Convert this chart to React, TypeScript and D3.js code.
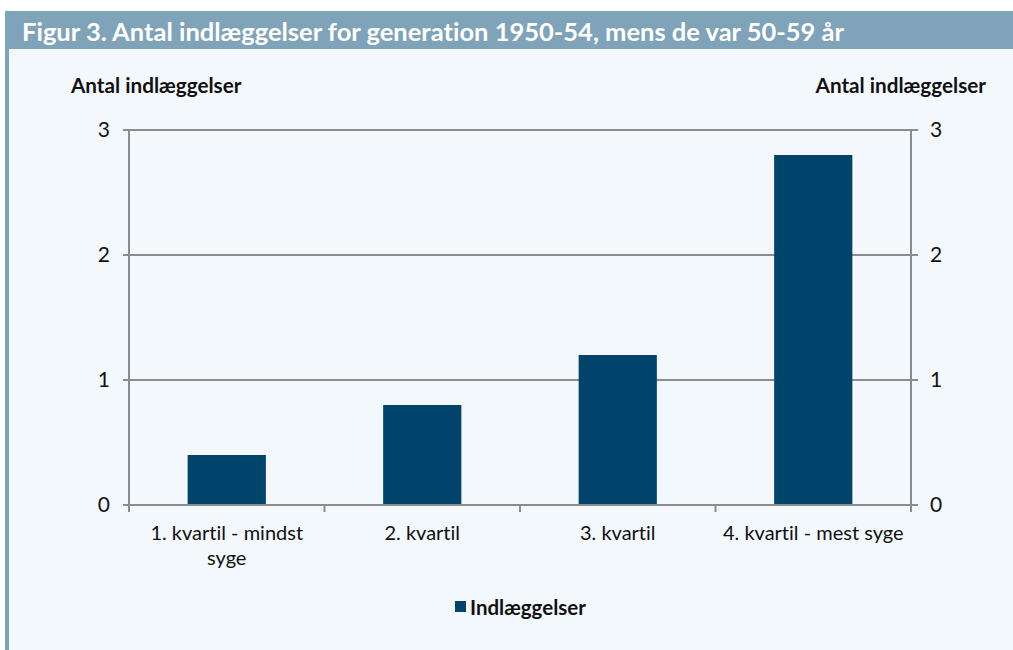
import React from "react";
import * as d3 from "d3";

const categories = ["1. kvartil - mindst syge", "2. kvartil", "3. kvartil", "4. kvartil - mest syge"];
const categoryLines = [["1. kvartil - mindst", "syge"], ["2. kvartil"], ["3. kvartil"], ["4. kvartil - mest syge"]];
const values = [0.4, 0.8, 1.2, 2.8];
const yTicks = [0, 1, 2, 3];
const seriesName = "Indlæggelser";
const title = "Figur 3. Antal indlæggelser for generation 1950-54, mens de var 50-59 år";
const axisTitle = "Antal indlæggelser";

const W = 1013;
const H = 650;
const left = 129;
const right = 911;
const top = 130;
const bottom = 505;
const barColor = "#00446b";
const gridColor = "#8c8c8c";
const font = "Lato, 'Open Sans', sans-serif";
const noLig = { fontVariantLigatures: "none" as const };

export default function App() {
  const x = d3.scaleBand<string>().domain(categories).range([left, right]).paddingInner(0.6).paddingOuter(0.3);
  const y = d3.scaleLinear().domain([0, 3]).range([bottom, top]);
  const bounds = d3.range(categories.length + 1).map((i) => left + (i * (right - left)) / categories.length);

  return (
    <svg width={W} height={H} style={{ position: "fixed", left: 0, top: 0, display: "block", ...noLig }}>
      <rect x={5} y={11} width={W - 5} height={H - 11} fill="#f3f8fc" />
      <rect x={5} y={11} width={W - 5} height={38} fill="#7fa3b8" />
      <rect x={5} y={11} width={4} height={H - 11} fill="#7fa3b8" />
      <text x={22} y={41} fill="#fff" fontFamily={font} fontWeight={700} fontSize={25.5}>
        {title}
      </text>
      <text x={71} y={93} fontFamily={font} fontWeight={700} fontSize={20.7} fill="#111">
        {axisTitle}
      </text>
      <text x={986} y={93} textAnchor="end" fontFamily={font} fontWeight={700} fontSize={20.7} fill="#111">
        {axisTitle}
      </text>
      {yTicks.map((t) => (
        <g key={t}>
          <line x1={left - 6} x2={right + 7} y1={y(t)} y2={y(t)} stroke={gridColor} strokeWidth={2} />
          <text x={110} y={y(t) + 7} textAnchor="end" fontFamily={font} fontSize={21} fill="#111">
            {t}
          </text>
          <text x={930} y={y(t) + 7} textAnchor="start" fontFamily={font} fontSize={21} fill="#111">
            {t}
          </text>
        </g>
      ))}
      <line x1={left} x2={left} y1={top} y2={bottom} stroke={gridColor} strokeWidth={2} />
      <line x1={right} x2={right} y1={top} y2={bottom} stroke={gridColor} strokeWidth={2} />
      {bounds.map((b, i) => (
        <line key={i} x1={b} x2={b} y1={bottom} y2={bottom + 7} stroke={gridColor} strokeWidth={2} />
      ))}
      {categories.map((c, i) => (
        <rect key={c} x={x(c)} y={y(values[i])} width={x.bandwidth()} height={y(0) - y(values[i])} fill={barColor} />
      ))}
      <line x1={left} x2={right} y1={bottom} y2={bottom} stroke={gridColor} strokeWidth={2} />
      {categories.map((c, i) => (
        <text key={c} textAnchor="middle" fontFamily={font} fontSize={20} fill="#111">
          {categoryLines[i].map((l, j) => (
            <tspan key={j} x={(x(c) as number) + x.bandwidth() / 2} y={540 + j * 25}>
              {l}
            </tspan>
          ))}
        </text>
      ))}
      <rect x={455} y={601} width={11} height={11} fill={barColor} />
      <text x={470} y={615} fontFamily={font} fontWeight={700} fontSize={20.5} fill="#111">
        {seriesName}
      </text>
    </svg>
  );
}
